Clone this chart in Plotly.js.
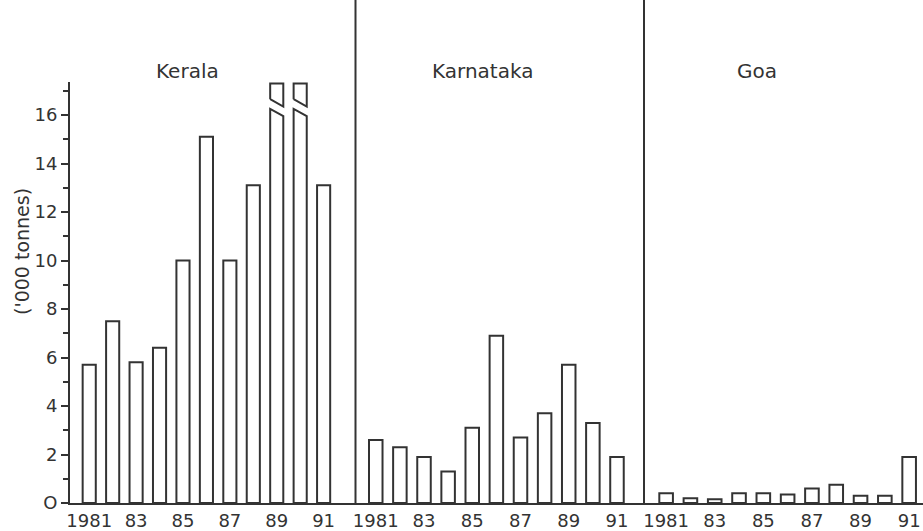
<!DOCTYPE html>
<html>
<head>
<meta charset="utf-8">
<script src="https://cdn.plot.ly/plotly-3.0.1.min.js"></script>
<style>html,body{margin:0;padding:0;background:#fff;}#chart{width:923px;height:531px;}</style>
</head>
<body>
<div id="chart"></div>
<script>
// ---- data ----
const years = [1981, 1982, 1983, 1984, 1985, 1986, 1987, 1988, 1989, 1990, 1991];
const keralaValues = [5.7, 7.5, 5.8, 6.4, 10.0, 15.1, 10.0, 13.1, null, null, 13.1]; // 1989, 1990 off-scale (broken bars)
const keralaBrokenYears = [1989, 1990];
const karnatakaValues = [2.6, 2.3, 1.9, 1.3, 3.1, 6.9, 2.7, 3.7, 5.7, 3.3, 1.9];
const goaValues = [0.4, 0.2, 0.15, 0.4, 0.4, 0.35, 0.6, 0.75, 0.3, 0.3, 1.9];
const panelTitles = ['Kerala', 'Karnataka', 'Goa'];
const tickYears = [1981, 1983, 1985, 1987, 1989, 1991];
const tickLabels = ['1981', '83', '85', '87', '89', '91'];
const yTickVals = [0, 2, 4, 6, 8, 10, 12, 14, 16];
const yTickText = ['O', '2', '4', '6', '8', '10', '12', '14', '16'];
const yTitle = "('000 tonnes)";

// ---- style ----
const ink = '#333333';
const font = 'DejaVu Sans, sans-serif';
const barW = 0.56;
const brk = {lowL: 16.25, lowR: 15.95, upL: 16.65, upR: 16.35, top: 17.3};

function barTrace(vals, xa) {
  return {
    type: 'bar', x: years, y: vals, xaxis: xa, yaxis: 'y', width: barW,
    marker: {color: '#ffffff', line: {color: ink, width: 2}},
    hoverinfo: 'x+y', showlegend: false
  };
}

const traces = [
  barTrace(keralaValues, 'x'),
  barTrace(karnatakaValues, 'x2'),
  barTrace(goaValues, 'x3')
];

keralaBrokenYears.forEach(function (yr) {
  const h = barW / 2;
  traces.push({
    type: 'scatter', mode: 'lines', fill: 'toself', fillcolor: '#ffffff',
    x: [yr - h, yr - h, yr + h, yr + h, yr - h],
    y: [0, brk.lowL, brk.lowR, 0, 0],
    line: {color: ink, width: 2}, xaxis: 'x', yaxis: 'y', showlegend: false, hoverinfo: 'skip'
  });
  traces.push({
    type: 'scatter', mode: 'lines', fill: 'toself', fillcolor: '#ffffff',
    x: [yr - h, yr - h, yr + h, yr + h, yr - h],
    y: [brk.upL, brk.top, brk.top, brk.upR, brk.upL],
    line: {color: ink, width: 2}, xaxis: 'x', yaxis: 'y', showlegend: false, hoverinfo: 'skip'
  });
});

const W = 853;
const T = 82, B = 503, H = B - T;
const d1 = (355.5 - 70) / W;
const d2 = (644 - 70) / W;

function xAxis(domain, range) {
  return {
    domain: domain, range: range, anchor: 'y',
    showline: true, linecolor: ink, linewidth: 2,
    showgrid: false, zeroline: false, ticks: '',
    tickmode: 'array', tickvals: tickYears, ticktext: tickLabels,
    tickfont: {family: font, size: 18, color: ink}
  };
}

const annotations = panelTitles.map(function (t, i) {
  const cx = [187, 482, 757][i];
  return {text: t, xref: 'paper', yref: 'paper', x: (cx - 70) / W, y: (B - 71) / H,
    showarrow: false, xanchor: 'center', yanchor: 'middle',
    font: {family: font, size: 20, color: ink}};
});
annotations.push({text: yTitle, xref: 'paper', yref: 'paper', x: (22 - 70) / W, y: (B - 252) / H,
  textangle: -90, showarrow: false, xanchor: 'center', yanchor: 'middle',
  font: {family: font, size: 19, color: ink}});

const layout = {
  width: 923, height: 531,
  margin: {l: 70, r: 0, t: T, b: 531 - B},
  paper_bgcolor: '#ffffff', plot_bgcolor: '#ffffff',
  showlegend: false, bargap: 0,
  xaxis: xAxis([0, d1], [1980.18, 1992.36]),
  xaxis2: xAxis([d1, d2], [1980.16, 1992.12]),
  xaxis3: xAxis([d2, 1], [1980.09, 1991.57]),
  yaxis: {
    range: [0, H / 24.25], showline: true, linecolor: ink, linewidth: 2,
    showgrid: false, zeroline: false,
    tickmode: 'array', tickvals: yTickVals, ticktext: yTickText,
    ticks: 'outside', ticklen: 7, tickwidth: 2, tickcolor: ink,
    minor: {dtick: 1, ticks: 'outside', ticklen: 5, tickwidth: 2, tickcolor: ink, showgrid: false},
    tickfont: {family: font, size: 18, color: ink}
  },
  shapes: [d1, d2].map(function (xp) {
    return {type: 'line', xref: 'paper', yref: 'paper', x0: xp, x1: xp, y0: 0, y1: B / H,
      line: {color: ink, width: 2}};
  }),
  annotations: annotations
};

Plotly.newPlot('chart', traces, layout, {displayModeBar: false, staticPlot: true});
</script>
</body>
</html>
